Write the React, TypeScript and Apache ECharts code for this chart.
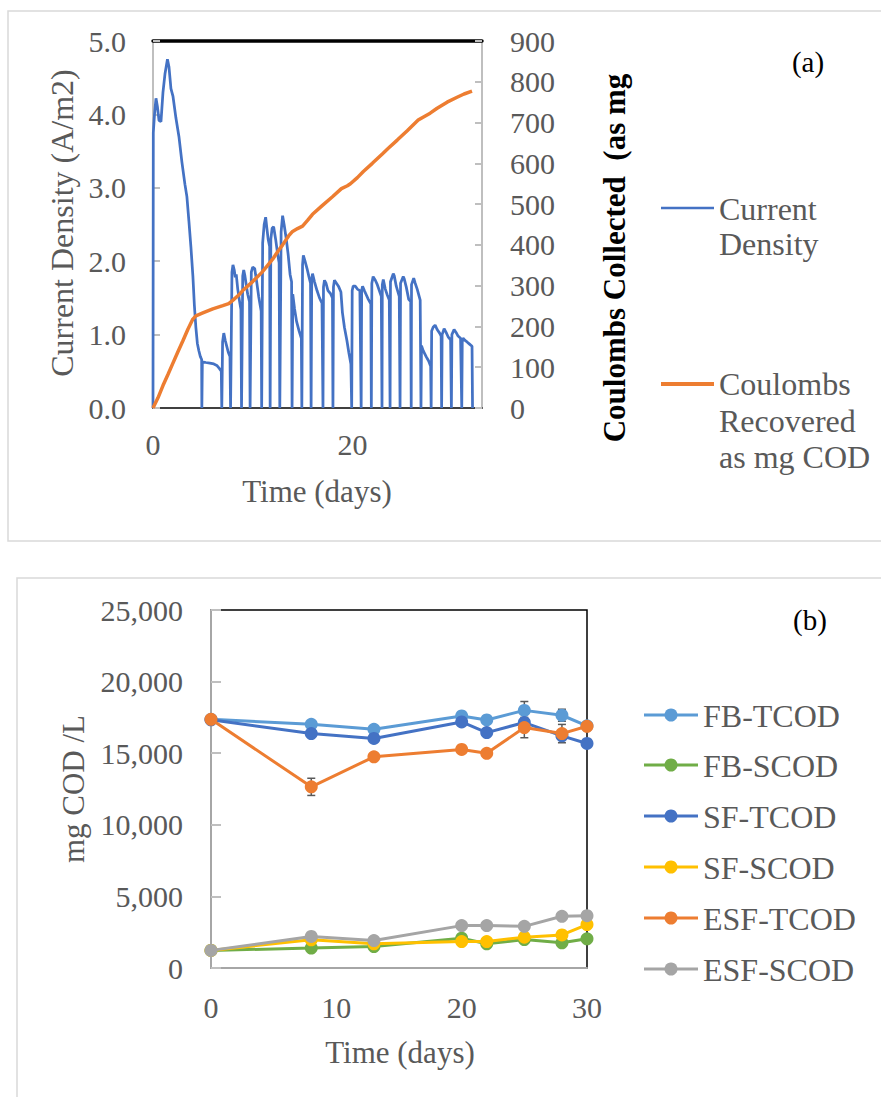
import React, { useEffect, useRef } from "react";
import * as echarts from "echarts";

// ---------- Panel (a) data ----------
// Current density (A/m2) vs time (days)
const currentDensity: [number, number][] = [
  [0, 0], [0.03, 3.75], [0.15, 4.0], [0.3, 4.22], [0.45, 4.1], [0.6, 3.92], [0.8, 3.9], [1.0, 4.3], [1.2, 4.55],
  [1.45, 4.75], [1.6, 4.65], [1.8, 4.35], [2.0, 4.25], [2.3, 3.95], [2.6, 3.7], [2.9, 3.35], [3.2, 3.05], [3.4, 2.88],
  [3.6, 2.55], [3.8, 2.2], [4.0, 1.8], [4.15, 1.4], [4.3, 1.1], [4.45, 0.88], [4.6, 0.78], [4.75, 0.7], [4.88, 0.66], [4.9, 0],
  [4.95, 0.63], [5.3, 0.62], [5.7, 0.61], [6.1, 0.6], [6.4, 0.58], [6.65, 0.54], [6.85, 0.5], [6.9, 0],
  [6.98, 0.9], [7.1, 1.02], [7.25, 0.92], [7.4, 0.84], [7.55, 0.76], [7.72, 0.7], [7.78, 0],
  [7.92, 1.85], [8.02, 1.95], [8.15, 1.88], [8.25, 1.78], [8.35, 1.82], [8.5, 1.62], [8.65, 1.48], [8.82, 1.34], [8.88, 0],
  [9.0, 1.8], [9.1, 1.88], [9.22, 1.8], [9.35, 1.68], [9.5, 1.55], [9.68, 1.45], [9.74, 0],
  [9.86, 1.85], [10.0, 1.92], [10.2, 1.9], [10.4, 1.72], [10.6, 1.52], [10.85, 1.32], [10.9, 0],
  [11.0, 2.25], [11.15, 2.5], [11.3, 2.6], [11.42, 2.45], [11.55, 2.3], [11.7, 2.2], [11.75, 0],
  [11.82, 2.3], [11.95, 2.45], [12.1, 2.47], [12.3, 2.3], [12.5, 2.1], [12.65, 1.98], [12.72, 0],
  [12.85, 2.4], [13.0, 2.62], [13.15, 2.5], [13.35, 2.32], [13.55, 2.1], [13.75, 1.82], [13.9, 1.72], [13.95, 0],
  [14.02, 1.55], [14.2, 1.35], [14.4, 1.18], [14.65, 1.05], [14.88, 0.95], [14.93, 0],
  [15.0, 1.95], [15.08, 2.08], [15.25, 2.0], [15.45, 1.9], [15.62, 1.8], [15.8, 1.7], [15.86, 0],
  [15.92, 1.75], [16.0, 1.83], [16.2, 1.72], [16.45, 1.6], [16.7, 1.5], [16.95, 1.43], [17.05, 0],
  [17.1, 1.65], [17.2, 1.74], [17.35, 1.7], [17.55, 1.6], [17.8, 1.56], [18.0, 1.5], [18.05, 0],
  [18.1, 1.65], [18.2, 1.74], [18.4, 1.7], [18.6, 1.66], [18.85, 1.58], [19.0, 1.3], [19.2, 1.1], [19.45, 0.92],
  [19.65, 0.75], [19.85, 0.6], [19.93, 0],
  [19.98, 1.6], [20.08, 1.66], [20.3, 1.66], [20.5, 1.62], [20.75, 1.6], [20.88, 0],
  [20.93, 1.6], [21.02, 1.66], [21.2, 1.6], [21.4, 1.54], [21.6, 1.48], [21.85, 1.42], [21.9, 0],
  [21.95, 1.7], [22.08, 1.79], [22.3, 1.74], [22.5, 1.68], [22.7, 1.6], [22.9, 1.52], [22.97, 0],
  [23.0, 1.68], [23.1, 1.75], [23.3, 1.62], [23.5, 1.54], [23.7, 1.47], [23.78, 0],
  [23.82, 1.72], [24.1, 1.83], [24.2, 1.8], [24.4, 1.66], [24.7, 1.52], [24.78, 0],
  [24.83, 1.7], [25.1, 1.79], [25.2, 1.76], [25.4, 1.65], [25.65, 1.48], [25.85, 1.45], [25.9, 0],
  [25.93, 1.68], [26.15, 1.77], [26.3, 1.7], [26.5, 1.62], [26.8, 1.47], [26.88, 0],
  [26.93, 0.85], [27.1, 0.78], [27.4, 0.7], [27.65, 0.64], [27.85, 0.57], [27.9, 0],
  [27.95, 1.05], [28.1, 1.1], [28.3, 1.13], [28.5, 1.07], [28.75, 1.02], [28.9, 0.98], [28.95, 0],
  [29.0, 1.0], [29.2, 1.08], [29.4, 1.03], [29.6, 0.97], [29.85, 0.93], [29.93, 0],
  [29.98, 1.0], [30.2, 1.07], [30.4, 1.03], [30.6, 0.98], [30.85, 0.95], [30.97, 0],
  [31.02, 0.92], [31.1, 0.95], [31.3, 0.92], [31.5, 0.9], [31.75, 0.87], [32.0, 0.84], [32.05, 0],
];

// Coulombs recovered as mg COD vs time (days)
const coulombs: [number, number][] = [
  [0, 0], [0.5, 25], [1, 55], [1.5, 82], [2, 110], [2.5, 138], [3, 165], [3.5, 193], [4, 218], [4.3, 226],
  [5, 233], [6, 243], [7, 251], [7.6, 256], [8, 264], [8.6, 277], [9, 288], [10, 310], [10.9, 332], [11.5, 350],
  [12, 365], [12.5, 383], [13, 400], [13.6, 422], [14, 433], [14.5, 440], [15, 446], [15.5, 460], [16, 475],
  [17, 497], [18, 518], [18.9, 538], [19.5, 545], [19.8, 550], [20.5, 565], [21.1, 580], [22, 600], [23, 623],
  [23.6, 637], [24.5, 657], [25.5, 680], [26.6, 706], [27, 712], [27.8, 723], [28.5, 735], [29.5, 750],
  [30.5, 762], [31.2, 770], [32, 777],
];

// ---------- Panel (b) data ----------
const days = [0, 8, 13, 20, 22, 25, 28, 30];
const fbTcod = [17370, 17020, 16670, 17600, 17320, 17990, 17650, 16910];
const fbScod = [1230, 1390, 1500, 2080, 1690, 1990, 1760, 2040];
const sfTcod = [17330, 16370, 16030, 17180, 16440, 17140, 16210, 15680];
const sfScod = [1230, 1970, 1690, 1850, 1850, 2150, 2310, 3030];
const esfTcod = [17370, 12650, 14750, 15260, 14990, 16790, 16370, 16880];
const esfScod = [1230, 2200, 1920, 2960, 2960, 2910, 3610, 3650];
// standard deviations shown as error bars (0 = none drawn)
const fbTcodErr = [0, 0, 0, 0, 0, 620, 420, 0];
const esfTcodErr = [0, 600, 0, 0, 0, 710, 640, 0];

const seriesNamesB = ["FB-TCOD", "FB-SCOD", "SF-TCOD", "SF-SCOD", "ESF-TCOD", "ESF-SCOD"];
const seriesValuesB = [fbTcod, fbScod, sfTcod, sfScod, esfTcod, esfScod];
const seriesColorsB = ["#5B9BD5", "#70AD47", "#4472C4", "#FFC000", "#ED7D31", "#A5A5A5"];

const FONT = '"Liberation Serif", "Times New Roman", Times, serif';
const GREY_TEXT = "#595959";
const AXIS_GREY = "#BFBFBF";

function buildOption() {
  const errData: [number, number, number][] = [];
  days.forEach((d, i) => {
    if (fbTcodErr[i] > 0) errData.push([d, fbTcod[i], fbTcodErr[i]]);
    if (esfTcodErr[i] > 0) errData.push([d, esfTcod[i], esfTcodErr[i]]);
  });

  const labelStyle = { fontSize: 30, fontFamily: FONT, color: GREY_TEXT };

  const graphics: any[] = [
    // panel frames
    { type: "rect", z: 0, shape: { x: 8, y: 11, width: 900, height: 530 }, style: { fill: "none", stroke: "#D9D9D9", lineWidth: 1.5 } },
    { type: "rect", z: 0, shape: { x: 17, y: 578, width: 900, height: 600 }, style: { fill: "none", stroke: "#D9D9D9", lineWidth: 1.5 } },
    // axis titles panel (a)
    { type: "text", x: 62, y: 223, rotation: Math.PI / 2, style: { text: "Current Density (A/m2)", fontSize: 32, fontFamily: FONT, fill: GREY_TEXT, align: "center", verticalAlign: "middle" } },
    { type: "text", x: 614, y: 258, rotation: Math.PI / 2, style: { text: "Coulombs Collected  (as mg", fontSize: 31, fontWeight: "bold", fontFamily: FONT, fill: "#000", align: "center", verticalAlign: "middle" } },
    { type: "text", x: 317, y: 491, style: { text: "Time (days)", fontSize: 31, fontFamily: FONT, fill: GREY_TEXT, align: "center", verticalAlign: "middle" } },
    { type: "text", x: 808, y: 62, style: { text: "(a)", fontSize: 29, fontFamily: FONT, fill: "#000", align: "center", verticalAlign: "middle" } },
    // legend panel (a)
    { type: "line", shape: { x1: 661, y1: 208, x2: 714, y2: 208 }, style: { stroke: "#4472C4", lineWidth: 2.5 } },
    { type: "text", x: 719, y: 209, style: { text: "Current", fontSize: 32, fontFamily: FONT, fill: GREY_TEXT, align: "left", verticalAlign: "middle" } },
    { type: "text", x: 719, y: 244, style: { text: "Density", fontSize: 32, fontFamily: FONT, fill: GREY_TEXT, align: "left", verticalAlign: "middle" } },
    { type: "line", shape: { x1: 661, y1: 384, x2: 714, y2: 384 }, style: { stroke: "#ED7D31", lineWidth: 4 } },
    { type: "text", x: 719, y: 384, style: { text: "Coulombs", fontSize: 32, fontFamily: FONT, fill: GREY_TEXT, align: "left", verticalAlign: "middle" } },
    { type: "text", x: 719, y: 421, style: { text: "Recovered", fontSize: 32, fontFamily: FONT, fill: GREY_TEXT, align: "left", verticalAlign: "middle" } },
    { type: "text", x: 719, y: 457, style: { text: "as mg COD", fontSize: 32, fontFamily: FONT, fill: GREY_TEXT, align: "left", verticalAlign: "middle" } },
    // axis titles panel (b)
    { type: "text", x: 73, y: 789, rotation: Math.PI / 2, style: { text: "mg COD /L", fontSize: 31, fontFamily: FONT, fill: GREY_TEXT, align: "center", verticalAlign: "middle" } },
    { type: "text", x: 400, y: 1052, style: { text: "Time (days)", fontSize: 31, fontFamily: FONT, fill: GREY_TEXT, align: "center", verticalAlign: "middle" } },
    { type: "text", x: 810, y: 620, style: { text: "(b)", fontSize: 29, fontFamily: FONT, fill: "#000", align: "center", verticalAlign: "middle" } },
  ];

  const legendYs = [715, 765, 816, 867, 918, 969];
  seriesNamesB.forEach((name, i) => {
    const y = legendYs[i];
    graphics.push({ type: "line", shape: { x1: 644, y1: y, x2: 698, y2: y }, style: { stroke: seriesColorsB[i], lineWidth: 3 } });
    graphics.push({ type: "circle", shape: { cx: 671, cy: y, r: 6.5 }, style: { fill: seriesColorsB[i] } });
    graphics.push({ type: "text", x: 703, y: y + 1, style: { text: name, fontSize: 32, fontFamily: FONT, fill: GREY_TEXT, align: "left", verticalAlign: "middle" } });
  });

  return {
    animation: false,
    backgroundColor: "#fff",
    grid: [
      { left: 153, top: 41, width: 329, height: 367, show: true, borderColor: "#000", borderWidth: 1, backgroundColor: "transparent" },
      { left: 211, top: 610, width: 376, height: 358, show: true, borderColor: "#000", borderWidth: 1.5, backgroundColor: "transparent" },
    ],
    xAxis: [
      {
        gridIndex: 0, type: "value", position: "bottom", min: 0, max: 33, interval: 20,
        axisLine: { show: true, onZero: false, lineStyle: { color: "#404040", width: 2 } },
        axisTick: { show: false }, splitLine: { show: false },
        axisLabel: { ...labelStyle, margin: 21, showMaxLabel: false },
      },
      {
        gridIndex: 0, type: "value", position: "top", min: 0, max: 33,
        axisLine: { show: true, onZero: false, lineStyle: { color: "#000", width: 3.5 } },
        axisTick: { show: false }, splitLine: { show: false }, axisLabel: { show: false },
      },
      {
        gridIndex: 1, type: "value", position: "bottom", min: 0, max: 30, interval: 10,
        axisLine: { show: true, onZero: false, lineStyle: { color: "#A6A6A6", width: 2 } },
        axisTick: { show: false }, splitLine: { show: false },
        axisLabel: { ...labelStyle, margin: 24 },
      },
    ],
    yAxis: [
      {
        gridIndex: 0, type: "value", position: "left", min: 0, max: 5, interval: 1,
        axisLine: { show: true, onZero: false, lineStyle: { color: AXIS_GREY, width: 2 } },
        axisTick: { show: true, inside: true, length: 7, lineStyle: { color: AXIS_GREY, width: 2 } },
        splitLine: { show: false },
        axisLabel: { ...labelStyle, margin: 27, formatter: (v: number) => v.toFixed(1) },
      },
      {
        gridIndex: 0, type: "value", position: "right", min: 0, max: 900, interval: 100,
        axisLine: { show: true, onZero: false, lineStyle: { color: AXIS_GREY, width: 2 } },
        axisTick: { show: true, inside: true, length: 7, lineStyle: { color: AXIS_GREY, width: 2 } },
        splitLine: { show: false },
        axisLabel: { ...labelStyle, margin: 28 },
      },
      {
        gridIndex: 1, type: "value", position: "left", min: 0, max: 25000, interval: 5000,
        axisLine: { show: true, onZero: false, lineStyle: { color: "#A6A6A6", width: 2 } },
        axisTick: { show: true, inside: true, length: 10, lineStyle: { color: AXIS_GREY, width: 2 } },
        splitLine: { show: false },
        axisLabel: { ...labelStyle, margin: 28, formatter: (v: number) => v.toLocaleString("en-US") },
      },
    ],
    series: [
      {
        name: "Current Density", type: "line", xAxisIndex: 0, yAxisIndex: 0, data: currentDensity,
        showSymbol: false, symbol: "none", lineStyle: { color: "#4472C4", width: 2.75 }, z: 2,
      },
      {
        name: "Coulombs Recovered as mg COD", type: "line", xAxisIndex: 0, yAxisIndex: 1, data: coulombs,
        showSymbol: false, symbol: "none", lineStyle: { color: "#ED7D31", width: 3.5 }, z: 3,
      },
      {
        name: "error bars", type: "custom", xAxisIndex: 2, yAxisIndex: 2, data: errData, z: 1,
        encode: { x: 0, y: 1 },
        renderItem: (params: any, api: any) => {
          const x = api.value(0);
          const y = api.value(1);
          const e = api.value(2);
          const top = api.coord([x, y + e]);
          const bot = api.coord([x, y - e]);
          const w = 4;
          const st = { stroke: "#595959", lineWidth: 1.5 };
          return {
            type: "group",
            children: [
              { type: "line", shape: { x1: top[0], y1: top[1], x2: bot[0], y2: bot[1] }, style: st },
              { type: "line", shape: { x1: top[0] - w, y1: top[1], x2: top[0] + w, y2: top[1] }, style: st },
              { type: "line", shape: { x1: bot[0] - w, y1: bot[1], x2: bot[0] + w, y2: bot[1] }, style: st },
            ],
          };
        },
      },
      ...seriesNamesB.map((name, i) => ({
        name, type: "line", xAxisIndex: 2, yAxisIndex: 2,
        data: days.map((d, j) => [d, seriesValuesB[i][j]]),
        symbol: "circle", symbolSize: 13, showSymbol: true,
        lineStyle: { color: seriesColorsB[i], width: 3 },
        itemStyle: { color: seriesColorsB[i], borderWidth: 0 },
        z: 2 + i * 0.01,
      })),
    ],
    graphic: graphics,
  };
}

export default function App() {
  const ref = useRef<HTMLDivElement>(null);
  useEffect(() => {
    if (!ref.current) return;
    const chart = echarts.init(ref.current, null, { renderer: "svg" });
    chart.setOption(buildOption() as any);
    return () => chart.dispose();
  }, []);
  return (
    <div
      ref={ref}
      style={{ position: "absolute", left: 0, top: 0, width: 881, height: 1097, background: "#fff" }}
    />
  );
}
